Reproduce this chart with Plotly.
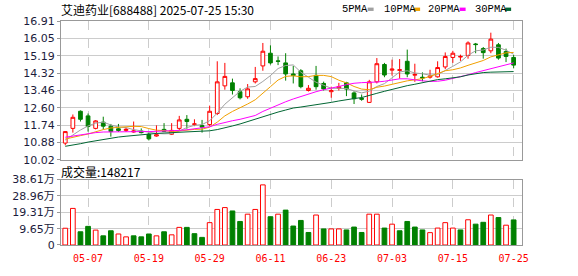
import plotly.graph_objects as go

# ---------------- data ----------------
dates = ["04-29", "04-30", "05-06", "05-07", "05-08", "05-09", "05-12", "05-13", "05-14", "05-15",
         "05-16", "05-19", "05-20", "05-21", "05-22", "05-23", "05-26", "05-27", "05-28", "05-29",
         "05-30", "06-03", "06-04", "06-05", "06-06", "06-09", "06-10", "06-11", "06-12", "06-13",
         "06-16", "06-17", "06-18", "06-19", "06-20", "06-23", "06-24", "06-25", "06-26", "06-27",
         "06-30", "07-01", "07-02", "07-03", "07-04", "07-07", "07-08", "07-09", "07-10", "07-11",
         "07-14", "07-15", "07-16", "07-17", "07-18", "07-21", "07-22", "07-23", "07-24", "07-25"]

opens = [10.85, 11.58, 12.43, 12.20, 11.58, 11.89, 11.69, 11.56, 11.48, 11.40,
         11.45, 11.29, 11.20, 11.53, 11.29, 11.58, 12.03, 11.78, 11.72, 11.77,
         12.32, 13.69, 13.84, 13.40, 13.15, 13.89, 14.68, 15.31, 14.93, 14.83,
         14.28, 14.44, 13.46, 14.21, 13.81, 13.40, 13.57, 13.84, 13.34, 13.07,
         12.87, 13.89, 14.75, 14.47, 14.46, 14.91, 14.22, 14.12, 14.12, 14.14,
         14.63, 15.10, 15.12, 15.20, 15.77, 15.54, 15.43, 15.73, 15.39, 15.10]
highs = [11.45, 12.27, 12.47, 12.32, 11.99, 12.16, 11.80, 11.80, 11.62, 11.92,
         11.58, 11.37, 11.73, 11.84, 11.84, 12.20, 12.24, 12.03, 12.00, 12.71,
         14.91, 14.83, 14.05, 13.57, 13.78, 14.63, 15.82, 15.70, 15.15, 15.31,
         14.68, 14.52, 13.73, 14.68, 13.90, 13.65, 13.84, 13.89, 13.42, 13.26,
         13.99, 15.07, 14.83, 14.99, 15.02, 15.49, 14.79, 14.36, 14.49, 14.91,
         15.35, 15.43, 15.24, 15.90, 15.82, 15.62, 16.33, 15.82, 15.54, 15.23]
lows = [10.74, 11.37, 11.92, 11.42, 11.53, 11.53, 11.17, 11.40, 11.40, 11.37,
        11.33, 10.98, 11.17, 11.40, 11.25, 11.50, 11.56, 11.69, 11.37, 11.69,
        12.24, 13.50, 13.26, 13.02, 13.05, 13.81, 14.44, 14.75, 14.72, 13.95,
        13.81, 13.57, 13.41, 13.50, 13.46, 13.10, 13.46, 13.18, 12.79, 12.95,
        12.84, 13.81, 14.12, 14.20, 14.05, 14.12, 13.89, 13.92, 14.05, 14.10,
        14.52, 14.83, 14.93, 15.04, 15.31, 15.04, 15.31, 14.99, 14.87, 14.56]
closes = [11.42, 12.13, 12.03, 11.67, 11.95, 11.69, 11.42, 11.48, 11.53, 11.45,
          11.37, 11.06, 11.26, 11.43, 11.48, 12.00, 11.92, 11.80, 11.64, 12.43,
          13.89, 14.16, 13.46, 13.10, 13.54, 14.05, 15.41, 14.83, 14.91, 14.28,
          14.20, 13.65, 13.57, 13.65, 13.54, 13.45, 13.65, 13.53, 13.05, 13.03,
          13.89, 14.79, 14.23, 14.52, 14.49, 14.28, 14.26, 14.08, 14.18, 14.60,
          15.15, 15.31, 15.15, 15.82, 15.74, 15.34, 16.01, 15.07, 15.15, 14.72]

ma5 = [11.00, 11.25, 11.50, 11.70, 11.84, 11.89, 11.75, 11.65, 11.62, 11.52,
       11.45, 11.38, 11.33, 11.31, 11.32, 11.45, 11.62, 11.73, 11.77, 11.96,
       12.34, 12.78, 13.12, 13.42, 13.63, 13.66, 13.91, 14.20, 14.55, 14.70,
       14.73, 14.37, 14.12, 13.87, 13.72, 13.57, 13.57, 13.56, 13.44, 13.34,
       13.43, 13.66, 13.80, 14.09, 14.38, 14.44, 14.33, 14.29, 14.22, 14.25,
       14.44, 14.66, 14.88, 15.21, 15.43, 15.47, 15.61, 15.60, 15.46, 15.26]
ma10 = [11.05, 11.12, 11.22, 11.30, 11.42, 11.52, 11.60, 11.64, 11.66, 11.68,
        11.67, 11.57, 11.49, 11.47, 11.42, 11.45, 11.50, 11.53, 11.54, 11.64,
        11.89, 12.20, 12.42, 12.59, 12.79, 13.00, 13.35, 13.65, 13.98, 14.16,
        14.19, 14.14, 14.15, 14.21, 14.21, 14.15, 13.97, 13.84, 13.66, 13.53,
        13.50, 13.62, 13.68, 13.77, 13.86, 13.94, 13.99, 14.05, 14.16, 14.31,
        14.44, 14.49, 14.58, 14.71, 14.84, 14.95, 15.13, 15.24, 15.33, 15.35]
ma20 = [11.14, 11.20, 11.26, 11.32, 11.37, 11.40, 11.41, 11.41, 11.41, 11.41,
        11.42, 11.42, 11.43, 11.44, 11.45, 11.48, 11.51, 11.55, 11.60, 11.66,
        11.78, 11.88, 11.96, 12.03, 12.11, 12.22, 12.42, 12.59, 12.76, 12.90,
        13.04, 13.17, 13.29, 13.40, 13.50, 13.57, 13.66, 13.75, 13.82, 13.85,
        13.85, 13.88, 13.92, 13.99, 14.04, 14.04, 13.98, 13.94, 13.91, 13.92,
        13.97, 14.05, 14.13, 14.24, 14.35, 14.44, 14.56, 14.64, 14.74, 14.83]
ma30 = [10.69, 10.74, 10.82, 10.90, 10.97, 11.04, 11.10, 11.15, 11.19, 11.23,
        11.27, 11.30, 11.33, 11.35, 11.37, 11.40, 11.42, 11.43, 11.44, 11.46,
        11.52, 11.60, 11.70, 11.80, 11.92, 12.04, 12.17, 12.29, 12.39, 12.49,
        12.59, 12.64, 12.69, 12.75, 12.81, 12.87, 12.94, 13.01, 13.06, 13.11,
        13.20, 13.32, 13.42, 13.52, 13.62, 13.70, 13.77, 13.85, 13.93, 14.00,
        14.04, 14.08, 14.14, 14.23, 14.30, 14.35, 14.37, 14.37, 14.38, 14.40]

# volume in 万 (10k shares)
volume_wan = [9.9, 21.6, 7.8, 11.0, 8.8, 5.4, 8.4, 6.5, 4.8, 5.4,
              4.8, 6.5, 5.4, 7.8, 6.0, 10.4, 10.4, 6.7, 4.5, 13.2,
              21.0, 22.1, 20.1, 13.9, 18.2, 21.0, 35.5, 16.7, 18.2, 20.6,
              11.2, 14.5, 7.4, 17.7, 9.5, 9.5, 9.5, 8.9, 10.6, 7.4,
              18.2, 18.2, 10.0, 12.3, 8.4, 13.9, 10.6, 8.9, 7.3, 10.0,
              13.2, 10.0, 8.9, 14.9, 12.3, 13.4, 17.7, 16.2, 11.7, 14.8217]
# u = up day (red hollow), d = down day (green filled)
volume_dir = "uuddudduud" "dduduudddu" "uudduuudud" "ddduduuddd" "uududdddu" "u" "uududdudud"

price_ticks = [10.02, 10.88, 11.74, 12.60, 13.46, 14.32, 15.19, 16.05, 16.91]
volume_ticks = [0, 96500, 193100, 289600, 386100]
volume_tick_text = ["0", "9.65万", "19.31万", "28.96万", "38.61万"]
x_tick_labels = ["05-07", "05-19", "05-29", "06-11", "06-23", "07-03", "07-15", "07-25"]

title_text = "艾迪药业[688488] 2025-07-25 15:30"
volume_title = "成交量:148217"
ma_names = ["5PMA", "10PMA", "20PMA", "30PMA"]
ma_colors = ["#a0a0a0", "#f0a000", "#ff00ff", "#006633"]

RED = "#ff0000"
GREEN = "#008000"

# ---------------- layout helpers (pixel -> paper) ----------------
W, H = 578, 276
L, R, T, B = 56, 56, 21, 21
PW, PH = W - L - R, H - T - B


def px_x(px):
    return (px - L) / PW


def px_y(py):
    return (H - B - py) / PH


fig = go.Figure()

fig.add_trace(go.Candlestick(
    x=dates, open=opens, high=highs, low=lows, close=closes,
    xaxis="x", yaxis="y",
    increasing=dict(line=dict(color=RED, width=1), fillcolor="#ffffff"),
    decreasing=dict(line=dict(color=GREEN, width=1), fillcolor=GREEN),
    whiskerwidth=0, showlegend=False, hoverinfo="skip",
))

for vals, col in zip([ma5, ma10, ma20, ma30], ma_colors):
    fig.add_trace(go.Scatter(x=dates, y=vals, mode="lines", line=dict(color=col, width=1),
                             xaxis="x", yaxis="y", showlegend=False, hoverinfo="skip"))

vol = [v * 10000 for v in volume_wan]
fills = ["#ffffff" if d == "u" else GREEN for d in volume_dir]
lines = [RED if d == "u" else GREEN for d in volume_dir]
fig.add_trace(go.Bar(x=dates, y=vol, xaxis="x2", yaxis="y2", width=0.62,
                     marker=dict(color=fills, line=dict(color=lines, width=1)),
                     showlegend=False, hoverinfo="skip"))

tickfont = dict(family="DejaVu Sans, Noto Sans CJK SC", size=11, color="#1c1c3c")

common_x = dict(type="category", range=[-0.56, 60.1], tickvals=x_tick_labels,
                showgrid=True, gridcolor="#cccccc", griddash="dash", gridwidth=1,
                showline=True, mirror=True, linecolor="#999999", linewidth=1,
                zeroline=False, fixedrange=True)

fig.update_layout(
    width=W, height=H, margin=dict(l=L, r=R, t=T, b=B),
    paper_bgcolor="white", plot_bgcolor="white", showlegend=False,
    xaxis=dict(domain=[0, 1], anchor="y", showticklabels=False, ticks="",
               rangeslider=dict(visible=False), **common_x),
    xaxis2=dict(domain=[0, 1], anchor="y2", matches="x", ticktext=x_tick_labels,
                showticklabels=True, ticks="outside", ticklen=4, tickcolor="rgba(0,0,0,0)",
                tickfont=dict(family="DejaVu Sans Mono", size=10, color=RED), **common_x),
    yaxis=dict(domain=[px_y(166), 1], range=[10.02, 16.91], tickvals=price_ticks,
               ticktext=["%.2f" % v for v in price_ticks],
               showgrid=True, gridcolor="#cccccc", showline=True, mirror=True,
               linecolor="#999999", ticks="outside", ticklen=3, tickcolor="#999999",
               tickfont=tickfont, zeroline=False, fixedrange=True),
    yaxis2=dict(domain=[0, px_y(186.7)], range=[0, 386100], tickvals=volume_ticks,
                ticktext=volume_tick_text,
                showgrid=True, gridcolor="#cccccc", showline=True, mirror=True,
                linecolor="#999999", ticks="outside", ticklen=3, tickcolor="#999999",
                tickfont=tickfont, zeroline=False, fixedrange=True),
)

annotations = [
    dict(text=title_text, x=px_x(54), y=px_y(8.5), xref="paper", yref="paper",
         xanchor="left", yanchor="middle", showarrow=False,
         font=dict(family="Noto Sans CJK SC", size=12, color="#000000")),
    dict(text=volume_title, x=px_x(54), y=px_y(178), xref="paper", yref="paper",
         xanchor="left", yanchor="middle", showarrow=False,
         font=dict(family="Noto Sans CJK SC", size=12, color="#000000")),
]
legend_text_x = [338, 380, 425, 472]
legend_box_x = [366, 413, 459, 505]
shapes = []
for name, col, tx, bx in zip(ma_names, ma_colors, legend_text_x, legend_box_x):
    annotations.append(dict(text=name, x=px_x(tx), y=px_y(8.5), xref="paper", yref="paper",
                            xanchor="left", yanchor="middle", showarrow=False,
                            font=dict(family="Liberation Mono", size=10.5, color="#000000")))
    shapes.append(dict(type="rect", xref="paper", yref="paper",
                       x0=px_x(bx), x1=px_x(bx + 6), y0=px_y(10.5), y1=px_y(7),
                       fillcolor=col, line=dict(width=0)))

fig.update_layout(annotations=annotations, shapes=shapes)

fig.write_html("out.html")
